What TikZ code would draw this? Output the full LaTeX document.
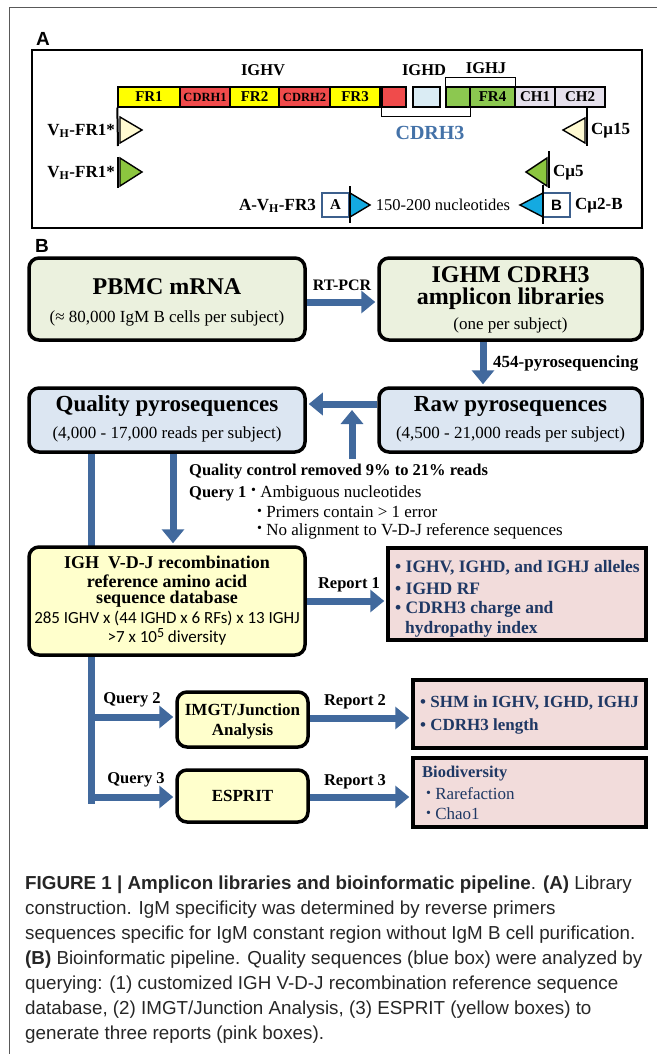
\documentclass[tikz,border=0pt]{standalone}
\usepackage{fontspec}
\setmainfont{Liberation Serif}
\newfontfamily\capfont{Liberation Sans}
\newfontfamily\calfont{Carlito}
\usetikzlibrary{arrows.meta,backgrounds}
\definecolor{arrblue}{RGB}{65,105,157}
\definecolor{boxgreen}{RGB}{235,241,222}
\definecolor{boxblue}{RGB}{220,230,242}
\definecolor{boxyel}{RGB}{255,255,204}
\definecolor{boxpink}{RGB}{242,220,219}
\definecolor{navy}{RGB}{31,56,100}
\definecolor{segyel}{RGB}{255,255,0}
\definecolor{segred}{RGB}{240,75,75}
\definecolor{seglblue}{RGB}{218,236,244}
\definecolor{seggreen}{RGB}{140,200,80}
\definecolor{seglav}{RGB}{229,224,236}
\definecolor{primyel}{RGB}{255,250,210}
\definecolor{primgreen}{RGB}{140,198,63}
\definecolor{primblue}{RGB}{20,170,225}
\definecolor{cdrblue}{RGB}{68,114,168}
\definecolor{abbox}{RGB}{60,95,140}
\newcommand\fsz[1]{\fontsize{#1}{#1}\selectfont}
\newcommand\sbul{\raisebox{0.3ex}{\fsz{14}\textbullet}}
\begin{document}
\begin{tikzpicture}[x=1pt,y=-1pt,
  seg/.style={draw=black, line width=1.4pt, inner sep=0pt, minimum height=20pt, font=\bfseries\fsz{15}},
  cdr/.style={seg, fill=segred, font=\bfseries\fsz{12.5}},
  tri/.style={draw=black, line width=1.4pt, line join=miter},
  pline/.style={draw=black, line width=2pt},
  albl/.style={inner sep=0pt, font=\bfseries\fsz{17}},
  abox/.style={draw=abbox, line width=1.8pt, fill=white, minimum width=27pt, minimum height=24pt, inner sep=0pt},
  rbox/.style={draw=black, line width=3.5pt, rounded corners=10pt, inner sep=0pt},
  pbox/.style={draw=black, line width=3.5pt, fill=boxpink, inner sep=0pt},
  arr/.style={draw=arrblue, line width=7pt, -{Triangle[width=22pt,length=14pt]}, shorten >=2pt},
  bline/.style={draw=arrblue, line width=7pt},
  ttl/.style={inner sep=0pt, font=\bfseries\fsz{24}},
  subt/.style={inner sep=0pt, font=\fsz{17}},
  lab/.style={inner sep=0pt, font=\bfseries\fsz{16.5}},
  rep/.style={inner sep=0pt, anchor=west, text=navy, font=\bfseries\fsz{17.5}},
  capline/.style={inner sep=0pt, anchor=base west, text=black!85, font=\capfont\fsz{18.8}},
  plbl/.style={inner sep=0pt, font=\capfont\bfseries\fsz{19}},
]
\useasboundingbox (0,0) rectangle (657,1054);
\draw[black!65, line width=1pt] (9,1054) -- (9,8) -- (657,8);

% ---------------- Panel A ----------------
\node[plbl] (labA) at (43,39) {A};
\node[draw=black, line width=2.2pt, minimum width=610pt, minimum height=178pt, inner sep=0pt] (panelA) at (337,139) {};

\node[inner sep=0pt, font=\bfseries\fsz{16.5}] (ighv) at (263,70) {IGHV};
\node[inner sep=0pt, font=\bfseries\fsz{16.5}] (ighd) at (424,70) {IGHD};
\node[inner sep=0pt, font=\bfseries\fsz{16.5}] (ighj) at (486,68) {IGHJ};

\node[seg, fill=segyel, minimum width=62pt] (fr1) at (149,97) {FR1};
\node[cdr, minimum width=50pt] (cdr1) at (205,97) {CDRH1};
\node[seg, fill=segyel, minimum width=49pt] (fr2) at (254.5,97) {FR2};
\node[cdr, minimum width=51pt] (cdr2) at (304.5,97) {CDRH2};
\node[seg, fill=segyel, minimum width=50pt] (fr3) at (355,97) {FR3};
\node[seg, fill=segred, minimum width=24pt] (red) at (394,97) {};
\node[seg, fill=seglblue, minimum width=27pt] (lblue) at (426.5,97) {};
\node[seg, fill=seggreen, minimum width=24pt] (green) at (458,97) {};
\node[seg, fill=seggreen, minimum width=45pt] (fr4) at (492.5,97) {FR4};
\node[seg, fill=seglav, minimum width=40pt] (ch1) at (535,97) {CH1};
\node[seg, fill=seglav, minimum width=50pt] (ch2) at (580,97) {CH2};

\draw[pline, line width=1.4pt] (green.north west) -- ([yshift=9pt]green.north west) -- ([yshift=9pt]fr4.north east) -- (fr4.north east);
\draw[pline, line width=1.4pt] (red.south west) -- ([yshift=-9pt]red.south west) -- ([yshift=-9pt]green.south east) -- (green.south east);
\node[inner sep=0pt, text=cdrblue, font=\bfseries\fsz{20}] (cdrh3) at (430,133) {CDRH3};

% forward primers
\draw[pline] (fr1.south west) -- (118,146);
\filldraw[tri, fill=primyel] (120,117) -- (142,130) -- (120,143) -- cycle;
\node[albl, anchor=east] (vh1) at (115,131) {V\textsubscript{H}-FR1*};
\draw[pline] (118,157) -- (118,188);
\filldraw[tri, fill=primgreen] (120,158) -- (142,172) -- (120,186) -- cycle;
\node[albl, anchor=east] (vh2) at (115,173) {V\textsubscript{H}-FR1*};

% reverse primers
\draw[pline] (587,107) -- (587,146);
\filldraw[tri, fill=primyel] (585,118) -- (563,130) -- (585,143) -- cycle;
\node[albl, anchor=west] (cm15) at (591,131) {Cμ15};
\draw[pline] (549,151) -- (549,188);
\filldraw[tri, fill=primgreen] (547,158) -- (526,172) -- (547,186) -- cycle;
\node[albl, anchor=west] (cm5) at (553,173) {Cμ5};

% 454 primers
\node[abox, font=\bfseries\fsz{15}] (boxa) at (335.5,205) {A};
\filldraw[tri, fill=primblue] (350,193) -- (370,205) -- (350,217) -- cycle;
\draw[pline] (350,186) -- (350,223);
\node[albl, anchor=east] (avh) at (316,206) {A-V\textsubscript{H}-FR3};
\node[inner sep=0pt, font=\fsz{16.5}] (nt) at (443,205) {150-200 nucleotides};
\node[abox, font=\capfont\bfseries\fsz{15}] (boxb) at (556.5,205) {B};
\filldraw[tri, fill=primblue] (543,193) -- (520,205) -- (543,217) -- cycle;
\draw[pline] (543,185) -- (543,224);
\node[albl, anchor=west] (cm2) at (575,206) {Cμ2-B};

% ---------------- Panel B ----------------
\node[plbl] (labB) at (42,246) {B};

\node[rbox, fill=boxgreen, minimum width=276pt, minimum height=82pt] (pbmc) at (167,299) {};
\node[ttl] (pbmct) at (167,287) {PBMC mRNA};
\node[subt] (pbmcs) at (167,318) {(≈ 80,000 IgM B cells per subject)};

\node[rbox, fill=boxgreen, minimum width=263pt, minimum height=82pt] (ighm) at (510.5,299) {};
\node[ttl] (ighmt1) at (510.5,275) {IGHM CDRH3};
\node[ttl] (ighmt2) at (510.5,299) {amplicon libraries};
\node[subt] (ighms) at (510.5,325) {(one per subject)};

\node[rbox, fill=boxblue, minimum width=276pt, minimum height=64pt] (quality) at (167,420) {};
\node[ttl, font=\bfseries\fsz{23}] (qualt) at (167,406) {Quality pyrosequences};
\node[subt] (quals) at (167,434) {(4,000 - 17,000 reads per subject)};

\node[rbox, fill=boxblue, minimum width=263pt, minimum height=64pt] (raw) at (510.5,420) {};
\node[ttl, font=\bfseries\fsz{23}] (rawt) at (510.5,406) {Raw pyrosequences};
\node[subt] (raws) at (510.5,434) {(4,500 - 21,000 reads per subject)};

\node[rbox, fill=boxyel, minimum width=276pt, minimum height=108pt] (igh) at (167,601) {};
\node[inner sep=0pt, font=\bfseries\fsz{18}] (igh1) at (167,562) {IGH\ \ V-D-J recombination};
\node[inner sep=0pt, font=\bfseries\fsz{18}] (igh2) at (167,581) {reference amino acid};
\node[inner sep=0pt, font=\bfseries\fsz{18}] (igh3) at (167,599) {sequence database};
\node[inner sep=0pt, font=\calfont\fsz{17}] (igh4) at (167,618) {285 IGHV x (44 IGHD x 6 RFs) x 13 IGHJ};
\node[inner sep=0pt, font=\calfont\fsz{17}] (igh5) at (167,637) {>7 x 10\raisebox{5pt}{\fsz{14}5} diversity};

\node[pbox, minimum width=258pt, minimum height=92pt] (pink1) at (517,594) {};
\node[rep] (p1a) at (395,568) {\textbullet\ IGHV, IGHD, and IGHJ alleles};
\node[rep] (p1b) at (395,589) {\textbullet\ IGHD RF};
\node[rep] (p1c) at (395,609) {\textbullet\ CDRH3 charge and};
\node[rep] (p1d) at (405,629) {hydropathy index};

\node[rbox, fill=boxyel, minimum width=131pt, minimum height=55pt] (imgt) at (242.5,719.5) {};
\node[lab, font=\bfseries\fsz{17}] (imgt1) at (242.5,710) {IMGT/Junction};
\node[lab, font=\bfseries\fsz{17}] (imgt2) at (242.5,731) {Analysis};

\node[rbox, fill=boxyel, minimum width=131pt, minimum height=52pt] (esprit) at (242.5,796) {};
\node[lab, font=\bfseries\fsz{17}] (espritt) at (242.5,796) {ESPRIT};

\node[pbox, minimum width=233pt, minimum height=68pt] (pink2) at (529.5,714) {};
\node[rep, font=\bfseries\fsz{17}] (p2a) at (420,703) {\textbullet\ SHM in IGHV, IGHD, IGHJ};
\node[rep, font=\bfseries\fsz{17}] (p2b) at (420,726) {\textbullet\ CDRH3 length};

\node[pbox, minimum width=233pt, minimum height=69pt] (pink3) at (529.5,792.5) {};
\node[rep, font=\bfseries\fsz{16.5}] (p3a) at (422,774) {Biodiversity};
\node[rep, font=\fsz{17}] (p3b) at (426,794) {\sbul\ Rarefaction};
\node[rep, font=\fsz{17}] (p3c) at (426,814) {\sbul\ Chao1};

% labels
\node[lab, font=\bfseries\fsz{16}] (rtpcr) at (342,285) {RT-PCR};
\node[lab, anchor=west, font=\bfseries\fsz{17}] (l454) at (493,363) {454-pyrosequencing};
\node[lab, anchor=west] (qc) at (189,472) {Quality control removed 9\% to 21\% reads};
\node[lab, anchor=west] (q1) at (189,494) {Query 1};
\node[subt, anchor=west] (b1) at (251,493) {\sbul\ Ambiguous nucleotides};
\node[subt, anchor=west] (b2) at (257,512) {\sbul\ Primers contain > 1 error};
\node[subt, anchor=west] (b3) at (257,531) {\sbul\ No alignment to V-D-J reference sequences};
\node[lab] (r1) at (349,585) {Report 1};
\node[lab] (q2l) at (132,700) {Query 2};
\node[lab] (r2) at (355,702) {Report 2};
\node[lab] (q3l) at (136,780) {Query 3};
\node[lab] (r3) at (355,782) {Report 3};

\coordinate (vend) at (91,804);
\coordinate (q2) at (91,717);
\coordinate (q3) at (91,797);
\coordinate (qcbot) at (352,459);
\coordinate (qctop) at (352,410);

\begin{pgfonlayer}{background}
\draw[bline] (quality.south -| vend) -- (vend);
\draw[arr] ([yshift=-3pt]pbmc.east) -- ([yshift=-3pt]ighm.west);
\draw[arr] ([xshift=-27.5pt]ighm.south) -- ([xshift=-27.5pt]raw.north);
\draw[arr] ([yshift=16pt]raw.west) -- ([yshift=16pt]quality.east);
\draw[arr, shorten >=0pt] (qcbot) -- (qctop);
\draw[arr] ([xshift=6pt]quality.south) -- ([xshift=6pt]igh.north);
\draw[arr] (igh.east) -- (igh.east -| pink1.west);
\draw[arr] (q2) -- (q2 -| imgt.west);
\draw[arr] (q3) -- (q3 -| esprit.west);
\draw[arr] ([yshift=1.5pt]imgt.east) -- ([yshift=1.5pt]imgt.east -| pink2.west);
\draw[arr] ([yshift=-1pt]esprit.east) -- ([yshift=-1pt]esprit.east -| pink3.west);
\end{pgfonlayer}

% ---------------- Caption ----------------
\node[capline] (c1) at (25,889) {\bfseries FIGURE 1 | Amplicon libraries and bioinformatic pipeline\mdseries. \bfseries (A)\mdseries\ Library};
\node[capline] (c2) at (25,914) {construction. IgM specificity was determined by reverse primers};
\node[capline] (c3) at (25,939) {sequences specific for IgM constant region without IgM B cell purification.};
\node[capline] (c4) at (25,964) {\textbf{(B)} Bioinformatic pipeline. Quality sequences (blue box) were analyzed by};
\node[capline] (c5) at (25,989) {querying: (1) customized IGH V-D-J recombination reference sequence};
\node[capline] (c6) at (25,1014) {database, (2) IMGT/Junction Analysis, (3) ESPRIT (yellow boxes) to};
\node[capline] (c7) at (25,1039) {generate three reports (pink boxes).};
\end{tikzpicture}
\end{document}
